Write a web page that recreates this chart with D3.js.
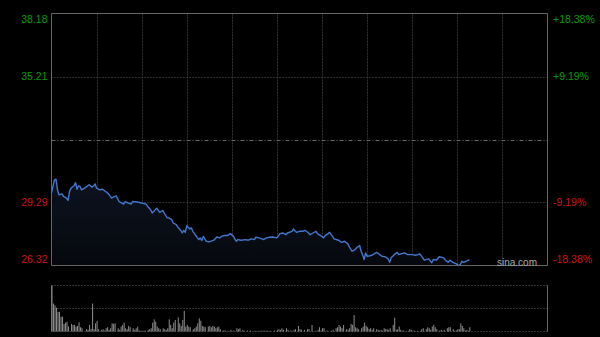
<!DOCTYPE html>
<html><head><meta charset="utf-8">
<script src="https://cdn.jsdelivr.net/npm/d3@7"></script>
<style>
html,body{margin:0;padding:0;background:#000;}
svg{display:block;}
</style></head>
<body>
<svg id="c" width="600" height="337"></svg>
<script>
// ---- data ----
const priceTicks = [38.18, 35.21, 32.25, 29.29, 26.32];
const pctTicks = ["+18.38%", "+9.19%", "", "-9.19%", "-18.38%"];
const prevClose = 32.25;
const totalMinutes = 330;
const gridMinutes = [30, 60, 90, 120, 150, 180, 210, 240, 270, 300];

const lineMinutes = [0,1,2,3,4,5,7,8,10,11,12,13,15,16,17,18,19,20,22,25,27,28,29,30,32,34,36,38,40,42,43,45,48,49,51,53,54,57,60,63,64,66,67,69,70,72,74,75,77,78,80,81,83,84,86,87,88,89,90,92,93,94,96,98,99,100,101,102,103,105,108,110,112,113,115,117,119,121,123,124,126,129,131,133,135,136,138,140,141,143,145,147,150,152,154,156,157,160,161,163,165,167,169,171,172,174,176,177,179,181,182,184,185,187,188,191,193,195,197,198,200,202,203,205,206,207,208,209,210,212,214,216,217,220,222,224,225,226,228,230,231,233,235,237,240,242,244,245,247,248,251,253,254,256,258,261,262,264,265,267,269,271,272,273,274,276,278];
const linePrices = [29.73,30.04,30.35,30.38,29.88,29.65,29.69,29.57,29.49,29.38,29.80,29.96,30.07,30.22,29.91,30.07,30.04,29.88,29.96,30.12,30.01,30.07,30.16,29.96,29.88,29.91,29.80,29.69,29.49,29.57,29.60,29.33,29.21,29.33,29.26,29.21,29.33,29.31,29.26,29.21,29.10,28.94,28.79,28.94,29.02,28.82,28.91,28.79,28.56,28.56,28.48,28.32,28.24,28.13,27.97,27.85,27.97,27.88,28.19,28.04,28.09,27.93,27.73,27.54,27.62,27.49,27.69,27.57,27.46,27.43,27.51,27.66,27.62,27.69,27.73,27.73,27.82,27.69,27.46,27.54,27.51,27.54,27.51,27.57,27.54,27.65,27.62,27.57,27.54,27.62,27.65,27.66,27.62,27.82,27.85,27.77,27.85,27.93,28.04,27.88,27.93,27.93,27.97,27.85,27.77,27.85,27.93,27.82,27.73,27.62,27.73,27.82,27.88,27.69,27.57,27.51,27.41,27.46,27.35,27.22,26.99,27.07,27.15,27.26,26.99,26.83,26.60,26.91,26.75,26.78,26.83,26.93,26.91,26.75,26.73,26.63,26.47,26.68,26.83,26.94,26.83,26.88,26.91,26.83,26.83,26.80,26.83,26.87,26.68,26.57,26.63,26.45,26.60,26.57,26.73,26.68,26.57,26.47,26.57,26.47,26.41,26.32,26.37,26.52,26.47,26.52,26.60];

const volMinutes = [0,1,2,3,4,5,6,7,8,9,10,11,13,14,15,16,17,18,19,20,23,24,25,26,27,28,29,30,31,33,34,35,36,37,38,39,40,41,42,44,45,46,47,48,49,50,51,52,54,55,56,57,58,59,60,61,62,64,65,66,67,68,69,70,71,72,74,75,76,77,78,79,80,81,82,84,85,86,87,88,89,90,91,92,94,95,96,97,98,99,100,101,102,104,105,106,107,108,109,110,111,112,114,115,117,119,121,123,124,125,127,128,130,132,135,137,139,141,143,145,148,150,151,152,153,154,156,157,159,161,162,164,165,166,168,170,171,173,175,177,178,179,180,181,183,186,187,189,190,191,192,193,194,196,197,198,199,200,201,202,203,204,206,207,208,209,210,211,212,213,214,216,217,218,219,220,221,222,223,224,225,227,228,229,230,231,232,233,234,237,238,239,241,243,245,246,247,249,250,251,252,253,254,255,256,258,259,260,261,263,264,265,267,268,269,270,271,272,273,274,275,276,277,278];
const volValues = [140,85,80,72,60,60,45,45,23,27,30,15,23,20,20,15,17,28,13,10,7,5,20,8,85,7,25,32,7,5,7,3,10,13,5,10,25,23,25,10,5,15,20,27,10,7,17,13,10,5,10,15,3,2,2,2,3,5,7,10,27,37,30,15,10,7,10,7,5,10,37,20,10,27,35,43,25,17,35,63,15,20,15,13,7,10,15,25,40,33,17,15,13,15,17,13,17,15,10,13,15,7,3,3,2,5,3,10,7,10,5,2,3,3,2,2,3,3,3,2,3,5,7,5,10,5,10,5,3,5,7,17,7,5,5,7,7,20,2,5,13,3,10,10,3,2,5,10,13,20,15,10,20,7,5,10,23,20,50,13,10,7,10,15,27,17,13,7,10,5,10,7,5,3,5,2,10,7,7,5,10,20,42,5,7,15,5,2,3,2,7,5,3,2,2,7,10,7,13,10,5,15,20,13,7,3,5,2,5,10,13,13,7,2,3,7,7,25,17,10,3,5,2,13];
const volMax = 140;

// ---- layout ----
const svg = d3.select("#c");
const L = 51.5, R = 547.5, T = 13.5, B = 265.5;
const VT = 285.5, VB = 331.5;

const x = d3.scaleLinear().domain([0, totalMinutes]).range([L, R]);
const y = d3.scaleLinear().domain([priceTicks[4], priceTicks[0]]).range([B, T]);
const yv = d3.scaleLinear().domain([0, volMax]).range([VB, VT]);

svg.append("rect").attr("width", 600).attr("height", 337).attr("fill", "#000");

// vertical grid
svg.append("g").selectAll("line").data(gridMinutes).join("line")
  .attr("x1", d => Math.round(x(d)) + 0.5).attr("x2", d => Math.round(x(d)) + 0.5)
  .attr("y1", T).attr("y2", B)
  .attr("stroke", "#333").attr("stroke-dasharray", "2,1");

// horizontal grid
svg.append("g").selectAll("line").data([priceTicks[1], priceTicks[3]]).join("line")
  .attr("x1", L).attr("x2", R)
  .attr("y1", d => Math.round(y(d)) + 0.5).attr("y2", d => Math.round(y(d)) + 0.5)
  .attr("stroke", "#555").attr("stroke-dasharray", "1,2");
svg.append("line")
  .attr("x1", L).attr("x2", R)
  .attr("y1", Math.round(y(prevClose)) + 0.5).attr("y2", Math.round(y(prevClose)) + 0.5)
  .attr("stroke", "#666").attr("stroke-dasharray", "4,2,1,2");

// area + line
const pts = lineMinutes.map((m, i) => [m, linePrices[i]]);
const grad = svg.append("defs").append("linearGradient").attr("id", "g1")
  .attr("x1", 0).attr("x2", 0).attr("y1", 0).attr("y2", 1);
grad.append("stop").attr("offset", "0%").attr("stop-color", "#0c1320");
grad.append("stop").attr("offset", "100%").attr("stop-color", "#06080d");
svg.append("path").datum(pts)
  .attr("d", d3.area().x(d => x(d[0])).y0(B).y1(d => y(d[1])))
  .attr("fill", "url(#g1)");
svg.append("path").datum(pts)
  .attr("d", d3.line().x(d => x(d[0])).y(d => y(d[1])))
  .attr("fill", "none").attr("stroke", "#4277cc").attr("stroke-width", 1.4)
  .attr("stroke-linejoin", "round");

// frame
svg.append("path")
  .attr("d", `M${L},${B}V${T}H${R}V${B}H${L}`)
  .attr("fill", "none").attr("stroke", "#666").attr("stroke-width", 1);

// labels
const green = "#0c980c", red = "#cc1414";
const labelY = (i) => {
  const yy = y(priceTicks[i]);
  if (i === 0) return yy + 6;
  if (i === priceTicks.length - 1) return yy - 6;
  return yy;
};
const lab = svg.append("g").attr("font-family", "Liberation Sans, Arial, sans-serif").attr("font-size", 10.5);
priceTicks.forEach((p, i) => {
  if (i === 2) return;
  const col = p > prevClose ? green : red;
  lab.append("text").attr("x", 47.5).attr("y", labelY(i)).attr("dy", "0.35em")
    .attr("text-anchor", "end").attr("fill", col).text(p.toFixed(2));
  lab.append("text").attr("x", 553).attr("y", labelY(i)).attr("dy", "0.35em")
    .attr("text-anchor", "start").attr("fill", col).text(pctTicks[i]);
});

// watermark
svg.append("text").attr("x", 537).attr("y", 262).attr("dy", "0.35em")
  .attr("text-anchor", "end").attr("font-family", "Liberation Sans, Arial, sans-serif")
  .attr("font-size", 10).attr("fill", "#a8a8a8").text("sina.com");

// volume panel grid
svg.append("g").selectAll("line").data([VT, (VT + VB) / 2, VB]).join("line")
  .attr("x1", L).attr("x2", R)
  .attr("y1", d => Math.round(d - 0.5) + 0.5).attr("y2", d => Math.round(d - 0.5) + 0.5)
  .attr("stroke", "#666").attr("stroke-dasharray", "1,2");
svg.append("line").attr("x1", L).attr("x2", L).attr("y1", VT).attr("y2", VB).attr("stroke", "#666");
svg.append("line").attr("x1", R).attr("x2", R).attr("y1", VT).attr("y2", VB).attr("stroke", "#666");

// volume bars
svg.append("g").selectAll("rect").data(volMinutes.map((m, i) => [m, volValues[i]])).join("rect")
  .attr("x", d => x(d[0]))
  .attr("width", 1)
  .attr("y", d => yv(d[1]))
  .attr("height", d => VB - yv(d[1]))
  .attr("fill", "#8c8c8c");
</script>
</body></html>
